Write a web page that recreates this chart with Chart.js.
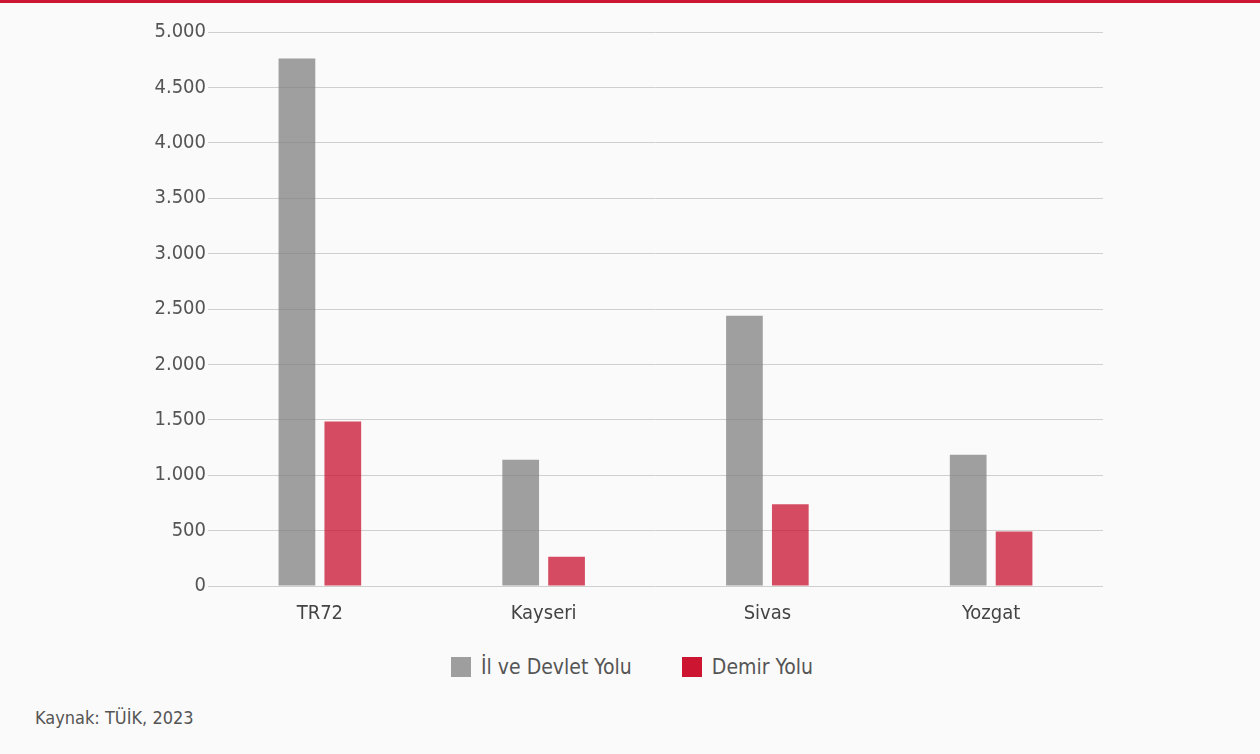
<!DOCTYPE html>
<html lang="tr">
<head>
    <meta charset="UTF-8">
    <title>Yol Uzunlukları - TR72</title>
    <script src="https://cdn.jsdelivr.net/npm/chart.js"></script>
    <style>
        body {
            margin: 0;
            width: 1260px;
            height: 754px;
            background-color: #fafafa;
            font-family: "Liberation Sans Narrow", "DejaVu Sans Condensed", Arial, sans-serif;
            overflow: hidden;
            position: relative;
        }
        .top-line {
            position: absolute;
            left: 0;
            top: 0;
            width: 1260px;
            height: 3px;
            background-color: #cc1530;
        }
        .chart-box {
            position: absolute;
            left: 0;
            top: 0;
            width: 1260px;
            height: 640px;
        }
        .legend {
            position: absolute;
            left: 0;
            top: 655px;
            width: 1264px;
            display: flex;
            justify-content: center;
            gap: 50px;
            font-size: 21px;
            color: #555;
        }
        .legend-item {
            display: flex;
            align-items: center;
        }
        .legend-box {
            width: 20px;
            height: 20px;
            margin-right: 10px;
        }
        .source {
            position: absolute;
            left: 35px;
            top: 707px;
            font-size: 18px;
            color: #555;
        }
    </style>
</head>
<body>
    <div class="top-line"></div>
    <div class="chart-box">
        <canvas id="yolChart"></canvas>
    </div>
    <div class="legend" id="legend"></div>
    <div class="source">Kaynak: TÜİK, 2023</div>

    <script>
        // Veriler (km)
        const bolgeler = ['TR72', 'Kayseri', 'Sivas', 'Yozgat'];
        const ilDevletYolu = [4760, 1140, 2440, 1185];
        const demirYolu = [1485, 265, 738, 492];
        const yTicks = [0, 500, 1000, 1500, 2000, 2500, 3000, 3500, 4000, 4500, 5000];

        const fontAile = '"Liberation Sans Narrow", "DejaVu Sans Condensed", Arial, sans-serif';

        const ctx = document.getElementById('yolChart').getContext('2d');
        const chart = new Chart(ctx, {
            type: 'bar',
            data: {
                labels: bolgeler,
                datasets: [{
                    label: 'İl ve Devlet Yolu',
                    data: ilDevletYolu,
                    backgroundColor: 'rgba(128, 128, 128, 0.75)',
                    legendColor: '#9e9e9e',
                    barPercentage: 0.8,
                    categoryPercentage: 0.41
                },
                {
                    label: 'Demir Yolu',
                    data: demirYolu,
                    backgroundColor: 'rgba(200, 16, 46, 0.75)',
                    legendColor: '#cc1530',
                    barPercentage: 0.8,
                    categoryPercentage: 0.41
                }]
            },
            options: {
                responsive: true,
                maintainAspectRatio: false,
                animation: false,
                layout: {
                    padding: { top: 32, right: 157, bottom: 6, left: 0 }
                },
                plugins: {
                    tooltip: { enabled: false },
                    legend: { display: false }
                },
                scales: {
                    x: {
                        grid: { display: false },
                        border: { display: false },
                        ticks: {
                            color: '#444',
                            padding: 8,
                            font: { family: fontAile, size: 20 }
                        }
                    },
                    y: {
                        min: 0,
                        max: 5000,
                        afterFit: function (scale) { scale.width = 208; },
                        afterBuildTicks: function (scale) {
                            scale.ticks = yTicks.map(v => ({ value: v }));
                        },
                        border: { display: false },
                        grid: {
                            color: '#cfcfcf',
                            lineWidth: 1,
                            drawTicks: false
                        },
                        ticks: {
                            color: '#555',
                            padding: 2,
                            font: { family: fontAile, size: 20 },
                            callback: function (v) {
                                return v.toLocaleString('tr-TR');
                            }
                        }
                    }
                }
            }
        });

        // HTML lejant
        const legendEl = document.getElementById('legend');
        chart.data.datasets.forEach(ds => {
            const item = document.createElement('div');
            item.className = 'legend-item';
            const box = document.createElement('span');
            box.className = 'legend-box';
            box.style.backgroundColor = ds.legendColor;
            const txt = document.createElement('span');
            txt.textContent = ds.label;
            item.appendChild(box);
            item.appendChild(txt);
            legendEl.appendChild(item);
        });
    </script>
</body>
</html>
